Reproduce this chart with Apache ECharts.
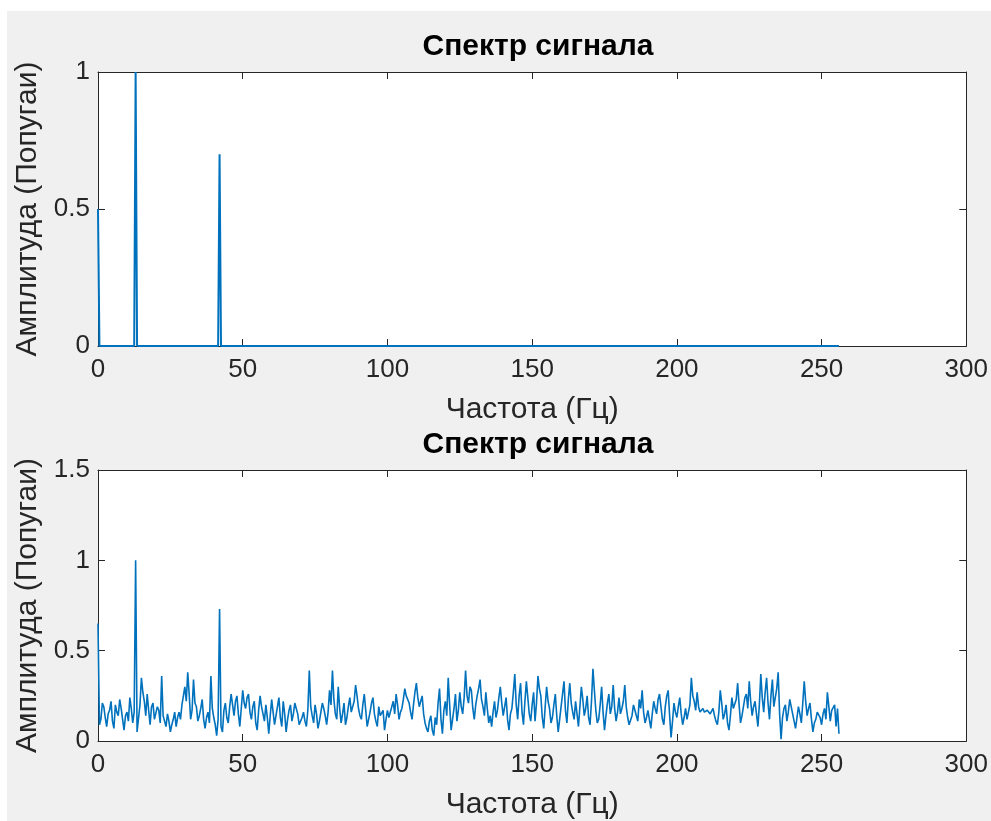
<!DOCTYPE html>
<html>
<head>
<meta charset="utf-8">
<script src="https://cdn.jsdelivr.net/npm/echarts@6/dist/echarts.min.js"></script>
<style>
  html, body { margin: 0; padding: 0; background: #ffffff; }
  #figure { position: absolute; left: 7px; top: 11px; right: 0; bottom: 0; background: #f0f0f0; }
  #chart { position: absolute; left: 0; top: 0; width: 991px; height: 821px; }
</style>
</head>
<body>
<div id="figure"></div>
<div id="chart"></div>
<script>
// Spectrum of the clean signal: DC component plus two tones
const toneFreqs = [0, 13, 42];
const toneAmps = [0.5, 1.0, 0.7];
const binStep = 0.5;       // Hz between spectrum bins
const maxFreq = 256;       // Nyquist, Hz

// Spectrum of the noisy signal, one value per 0.5 Hz bin from 0 to 256 Hz
const noisyAmps = [
  0.65,0.09, 0.12,0.21, 0.19,0.13, 0.08,0.15, 0.17,0.22, 0.11,0.07, 0.20,0.16, 0.14,0.23, 0.18,0.12, 0.06,0.14,
  0.16,0.11, 0.24,0.18, 0.10,0.16, 1.00,0.05, 0.04,0.20, 0.35,0.27, 0.22,0.14, 0.26,0.17, 0.09,0.19, 0.21,0.12,
  0.13,0.19, 0.17,0.10, 0.36,0.14, 0.11,0.08, 0.15,0.11, 0.05,0.09, 0.12,0.16, 0.08,0.13, 0.16,0.12, 0.20,0.25,
  0.30,0.22, 0.38,0.26, 0.12,0.17, 0.34,0.21, 0.19,0.11, 0.14,0.18, 0.23,0.12, 0.07,0.13, 0.16,0.10, 0.36,0.18,
  0.13,0.09, 0.03,0.12, 0.73,0.08, 0.05,0.17, 0.21,0.13, 0.10,0.19, 0.26,0.20, 0.14,0.22, 0.25,0.15, 0.08,0.18,
  0.28,0.21, 0.18,0.24, 0.26,0.16, 0.12,0.19, 0.22,0.10, 0.06,0.17, 0.25,0.19, 0.15,0.11, 0.20,0.13, 0.04,0.14,
  0.23,0.16, 0.09,0.14, 0.19,0.24, 0.13,0.08, 0.22,0.15, 0.05,0.12, 0.17,0.20, 0.11,0.15, 0.21,0.18, 0.15,0.09,
  0.10,0.13, 0.16,0.11, 0.08,0.17, 0.39,0.19, 0.14,0.10, 0.20,0.15, 0.07,0.11, 0.12,0.21, 0.18,0.14, 0.09,0.16,
  0.28,0.20, 0.39,0.23, 0.15,0.12, 0.30,0.18, 0.10,0.15, 0.21,0.09, 0.13,0.19, 0.24,0.16, 0.17,0.22, 0.31,0.25,
  0.18,0.14, 0.12,0.20, 0.26,0.17, 0.08,0.12, 0.16,0.21, 0.24,0.15, 0.11,0.08, 0.19,0.14, 0.13,0.17, 0.06,0.12,
  0.17,0.13, 0.14,0.19, 0.22,0.15, 0.26,0.20, 0.12,0.16, 0.18,0.23, 0.29,0.25, 0.24,0.21, 0.16,0.12, 0.20,0.27,
  0.32,0.24, 0.19,0.22, 0.25,0.15, 0.10,0.07, 0.05,0.11, 0.14,0.06, 0.03,0.13, 0.09,0.21, 0.29,0.12, 0.04,0.17,
  0.22,0.14, 0.35,0.20, 0.06,0.12, 0.18,0.26, 0.11,0.17, 0.27,0.19, 0.15,0.24, 0.39,0.25, 0.21,0.30, 0.28,0.18,
  0.12,0.20, 0.25,0.29, 0.34,0.23, 0.19,0.14, 0.27,0.18, 0.10,0.14, 0.08,0.16, 0.22,0.13, 0.17,0.24, 0.30,0.21,
  0.14,0.19, 0.24,0.12, 0.06,0.15, 0.18,0.27, 0.37,0.20, 0.12,0.25, 0.32,0.16, 0.09,0.22, 0.33,0.24, 0.15,0.11,
  0.20,0.27, 0.11,0.21, 0.36,0.29, 0.25,0.13, 0.07,0.19, 0.30,0.22, 0.18,0.10, 0.13,0.20, 0.26,0.14, 0.05,0.12,
  0.19,0.26, 0.33,0.17, 0.10,0.23, 0.32,0.21, 0.16,0.12, 0.22,0.15, 0.08,0.19, 0.30,0.23, 0.14,0.18, 0.25,0.13,
  0.09,0.22, 0.40,0.28, 0.17,0.10, 0.12,0.20, 0.30,0.16, 0.06,0.14, 0.21,0.26, 0.15,0.19, 0.31,0.18, 0.11,0.16,
  0.24,0.15, 0.18,0.22, 0.31,0.19, 0.13,0.09, 0.08,0.14, 0.20,0.17, 0.14,0.11, 0.23,0.18, 0.28,0.16, 0.10,0.13,
  0.17,0.12, 0.07,0.15, 0.22,0.18, 0.15,0.23, 0.26,0.19, 0.12,0.09, 0.19,0.25, 0.28,0.14, 0.02,0.11, 0.21,0.16,
  0.13,0.19, 0.24,0.15, 0.09,0.13, 0.18,0.12, 0.11,0.20, 0.35,0.25, 0.22,0.17, 0.27,0.19, 0.16,0.15, 0.18,0.16,
  0.15,0.17, 0.17,0.15, 0.16,0.18, 0.14,0.11, 0.09,0.16, 0.28,0.21, 0.12,0.15, 0.20,0.10, 0.06,0.14, 0.24,0.18,
  0.17,0.23, 0.32,0.20, 0.10,0.14, 0.19,0.24, 0.26,0.18, 0.33,0.22, 0.14,0.19, 0.22,0.15, 0.08,0.20, 0.37,0.24,
  0.16,0.27, 0.35,0.21, 0.12,0.25, 0.34,0.19, 0.20,0.29, 0.38,0.15, 0.01,0.13, 0.18,0.20, 0.11,0.16, 0.23,0.19,
  0.15,0.11, 0.07,0.13, 0.19,0.15, 0.10,0.21, 0.33,0.22, 0.14,0.18, 0.21,0.12, 0.05,0.10, 0.12,0.16, 0.17,0.13,
  0.09,0.15, 0.18,0.12, 0.27,0.19, 0.11,0.17, 0.16,0.20, 0.08,0.18, 0.04
];

const xTicks = { min: 0, max: 300, interval: 50 };
const yTicksTop = { min: 0, max: 1, interval: 0.5 };
const yTicksBottom = { min: 0, max: 1.5, interval: 0.5 };

const titleText = 'Спектр сигнала';
const xName = 'Частота (Гц)';
const yName = 'Амплитуда (Попугаи)';

// Build [freq, amp] pairs on the common bin grid
const cleanData = [];
for (let i = 0; i * binStep <= maxFreq; i++) {
  const f = i * binStep;
  const k = toneFreqs.indexOf(f);
  cleanData.push([f, k >= 0 ? toneAmps[k] : 0]);
}
const noisyData = noisyAmps.map((a, i) => [i * binStep, a]);

const FONT = '"Liberation Sans", Arial, Helvetica, sans-serif';
const INK = '#262626';
const LINE = '#0072BD';
const TICK_FONT = 26;
const LABEL_FONT = 30;

const grids = [
  { left: 98, top: 72, width: 870, height: 274 },
  { left: 98, top: 470, width: 870, height: 272 }
];

function xAxes(gi) {
  return [
    {
      type: 'value', gridIndex: gi, position: 'bottom',
      min: xTicks.min, max: xTicks.max, interval: xTicks.interval,
      name: xName, nameLocation: 'middle', nameGap: 49,
      nameTextStyle: { fontFamily: FONT, fontSize: LABEL_FONT, color: INK },
      axisLine: { show: true, onZero: false, lineStyle: { color: INK, width: 1 } },
      axisTick: { show: true, inside: true, length: 7, lineStyle: { color: INK } },
      axisLabel: { fontFamily: FONT, fontSize: TICK_FONT, color: INK, margin: 11 },
      splitLine: { show: false }
    },
    {
      type: 'value', gridIndex: gi, position: 'top',
      min: xTicks.min, max: xTicks.max, interval: xTicks.interval,
      axisLine: { show: true, onZero: false, lineStyle: { color: INK, width: 1 } },
      axisTick: { show: true, inside: true, length: 7, lineStyle: { color: INK } },
      axisLabel: { show: false },
      splitLine: { show: false }
    }
  ];
}

function yAxes(gi, t) {
  return [
    {
      type: 'value', gridIndex: gi, position: 'left',
      min: t.min, max: t.max, interval: t.interval,
      name: yName, nameLocation: 'middle', nameGap: 54,
      nameTextStyle: { fontFamily: FONT, fontSize: LABEL_FONT, color: INK },
      axisLine: { show: true, onZero: false, lineStyle: { color: INK, width: 1 } },
      axisTick: { show: true, inside: true, length: 7, lineStyle: { color: INK } },
      axisLabel: { fontFamily: FONT, fontSize: TICK_FONT, color: INK, margin: 8 },
      splitLine: { show: false }
    },
    {
      type: 'value', gridIndex: gi, position: 'right',
      min: t.min, max: t.max, interval: t.interval,
      axisLine: { show: true, onZero: false, lineStyle: { color: INK, width: 1 } },
      axisTick: { show: true, inside: true, length: 7, lineStyle: { color: INK } },
      axisLabel: { show: false },
      splitLine: { show: false }
    }
  ];
}

const chart = echarts.init(document.getElementById('chart'), null, { renderer: 'canvas' });

chart.setOption({
  animation: false,
  backgroundColor: 'transparent',
  title: [
    { text: titleText, left: 533, top: 27, textAlign: 'center',
      textStyle: { fontFamily: FONT, fontSize: LABEL_FONT, fontWeight: 'bold', color: '#000' } },
    { text: titleText, left: 533, top: 425, textAlign: 'center',
      textStyle: { fontFamily: FONT, fontSize: LABEL_FONT, fontWeight: 'bold', color: '#000' } }
  ],
  grid: grids.map(g => Object.assign({ show: true, backgroundColor: '#ffffff', borderWidth: 0 }, g)),
  xAxis: [...xAxes(0), ...xAxes(1)],
  yAxis: [...yAxes(0, yTicksTop), ...yAxes(1, yTicksBottom)],
  series: [
    { type: 'line', xAxisIndex: 0, yAxisIndex: 0, data: cleanData, showSymbol: false,
      lineStyle: { color: LINE, width: 2 }, clip: true },
    { type: 'line', xAxisIndex: 2, yAxisIndex: 2, data: noisyData, showSymbol: false,
      lineStyle: { color: LINE, width: 1.6 }, clip: true }
  ]
});
</script>
</body>
</html>
